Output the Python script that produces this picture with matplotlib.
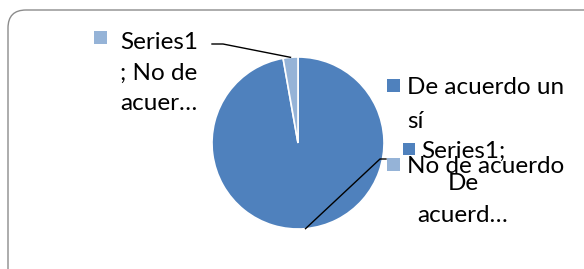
import matplotlib
matplotlib.use("Agg")
import matplotlib.pyplot as plt
from matplotlib.patches import FancyBboxPatch, Rectangle
from matplotlib.transforms import IdentityTransform
import numpy as np

plt.rcParams['font.family'] = ['Lato', 'DejaVu Sans']

categories = ["De acuerdo un sí", "No de acuerdo"]
legend_labels = ["De acuerdo un\nsí", "No de acuerdo"]
values = [35, 1]
data_labels = ["Series1;\nDe\nacuerd…", "Series1\n; No de\nacuer…"]
colors = ["#4F81BD", "#95B3D7"]

W, H = 584, 269
fig = plt.figure(figsize=(W / 100, H / 100), dpi=100)

# rounded chart border (pixel coords)
fig.patches.append(FancyBboxPatch((8, -30), 620, H - 10 + 30,
                                  boxstyle="round,pad=0,rounding_size=18",
                                  transform=IdentityTransform(),
                                  fc="none", ec="#8c8c8c", lw=1.0, zorder=-1))

cx, cy, r = 298, 143, 86
ax = fig.add_axes([(cx - r) / W, (H - cy - r) / H, 2 * r / W, 2 * r / H])
wedges, _ = ax.pie(values, colors=colors, startangle=90, counterclock=False,
                   wedgeprops=dict(edgecolor="white", linewidth=1.2))
ax.set_xlim(-1, 1)
ax.set_ylim(-1, 1)
ax.set_aspect("auto")

fs = 17.5


def px(x, y):
    return (x / W, 1 - y / H)


def key(x, y, color, size=13):
    # little colour square, (x, y) = top-left in pixels
    fig.patches.append(Rectangle(px(x, y + size), size / W, size / H,
                                 transform=fig.transFigure, fc=color, ec="none"))


# leader lines from each slice's mid angle
for w, lab_pts in zip(wedges, [[(380, 159), (386, 159)], [(223, 44), (212, 44)]]):
    ang = np.deg2rad((w.theta1 + w.theta2) / 2)
    start = fig.transFigure.inverted().transform(
        ax.transData.transform((np.cos(ang), np.sin(ang))))
    xs = [start[0]] + [px(*p)[0] for p in lab_pts]
    ys = [start[1]] + [px(*p)[1] for p in lab_pts]
    fig.add_artist(plt.Line2D(xs, ys, color="black", lw=1.0, transform=fig.transFigure))

# data labels with their colour keys
key(94, 31, colors[1])
fig.text(*px(120, 32), data_labels[1], ha="left", va="top", fontsize=fs, linespacing=1.57)

key(403, 143, colors[0], 12)
fig.text(*px(463, 141), data_labels[0], ha="center", va="top", fontsize=fs, linespacing=1.66)

# legend
for (ly, col, lab) in zip([79, 158], colors, legend_labels):
    key(387, ly, col)
    fig.text(*px(407, ly - 2), lab, ha="left", va="top", fontsize=fs, linespacing=1.75)

fig.savefig("out.png", dpi=100)
